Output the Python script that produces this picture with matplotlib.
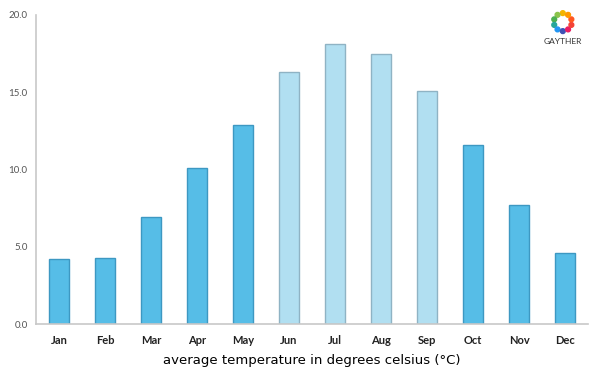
import numpy as np
import matplotlib
matplotlib.use('Agg')
from matplotlib import pyplot as plt
from matplotlib.patches import Ellipse

months = ['Jan', 'Feb', 'Mar', 'Apr', 'May', 'Jun', 'Jul', 'Aug', 'Sep', 'Oct', 'Nov', 'Dec']
temps = [4.2, 4.3, 6.9, 10.1, 12.9, 16.3, 18.1, 17.5, 15.1, 11.6, 7.7, 4.6]
summer = ['Jun', 'Jul', 'Aug', 'Sep']

plt.rcParams['font.family'] = ['Lato', 'DejaVu Sans']

fig = plt.figure(figsize=(6, 3.75), dpi=100)
ax = fig.add_axes([0.06, 0.136, 0.92, 0.824])

x = np.arange(len(months))
fill = ['#b1dff1' if m in summer else '#56bde7' for m in months]
edge = ['#8fb3c4' if m in summer else '#3d98c2' for m in months]
ax.bar(x, temps, width=0.43, color=fill, edgecolor=edge, linewidth=1)

ax.set_xlim(-0.5, 11.5)
ax.set_ylim(0, 20)
ax.set_yticks([0, 5, 10, 15, 20])
ax.set_yticklabels(['0.0', '5.0', '10.0', '15.0', '20.0'], fontsize=7, color='#555555')
ax.set_xticks(x)
ax.set_xticklabels(months, fontsize=8, fontweight='bold', color='#222222')
ax.tick_params(length=0)
ax.tick_params(axis='x', pad=8)
ax.tick_params(axis='y', pad=6)
for s in ['top', 'right']:
    ax.spines[s].set_visible(False)
for s in ['left', 'bottom']:
    ax.spines[s].set_color('#c8c8c8')
    ax.spines[s].set_linewidth(1.2)
ax.set_xlabel('average temperature in degrees celsius (\u00b0C)', fontsize=9.5, labelpad=6,
              family='DejaVu Sans')

# logo
cols = ['#f4b400', '#8bc34a', '#4caf50', '#26a69a', '#2196f3', '#3f51b5', '#e91e63', '#f44336', '#ff5722', '#ff9800']
ang = np.linspace(0, 2 * np.pi, len(cols), endpoint=False) + np.pi / 2
for a, c in zip(ang, cols):
    fig.patches.append(Ellipse((0.938 + 0.015 * np.cos(a), 0.941 + 0.024 * np.sin(a)), 0.008, 0.0128,
                               transform=fig.transFigure, color=c, figure=fig))
fig.text(0.938, 0.888, 'GAYTHER', fontsize=6, ha='center', va='center', color='#333333')

fig.savefig('out.png', dpi=100)
